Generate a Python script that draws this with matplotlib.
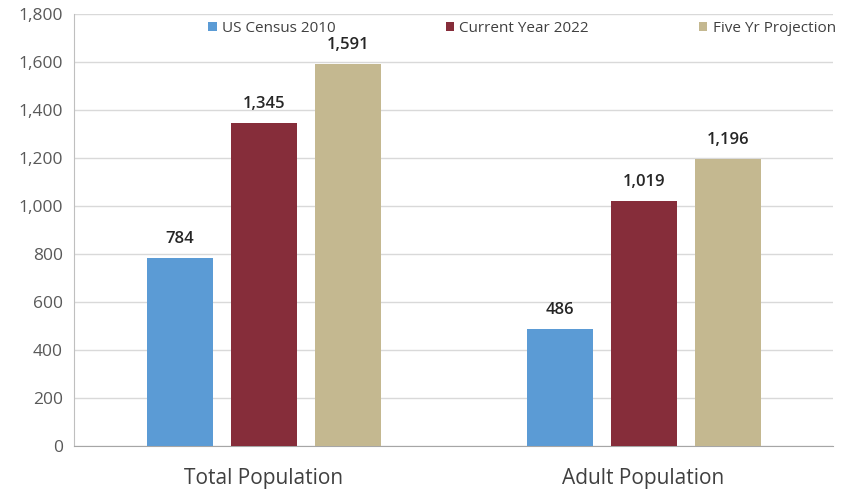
import matplotlib
matplotlib.use("Agg")
import matplotlib.pyplot as plt
import numpy as np
from matplotlib.ticker import FuncFormatter, MultipleLocator

categories = ["Total Population", "Adult Population"]
series_names = ["US Census 2010", "Current Year 2022", "Five Yr Projection"]
census_2010 = [784, 486]
current_2022 = [1345, 1019]
five_yr = [1591, 1196]
colors = ["#5B9BD5", "#862D3A", "#C4B890"]

plt.rcParams['font.family'] = ['Open Sans', 'DejaVu Sans']

fig = plt.figure(figsize=(8.42, 4.92), dpi=100)
ax = fig.add_axes([0.0879, 0.0935, 0.902, 0.878])

x = np.arange(len(categories))
width = 0.174
offset = 0.221
series = [census_2010, current_2022, five_yr]
for i, (vals, name, c) in enumerate(zip(series, series_names, colors)):
    pos = x + (i - 1) * offset
    bars = ax.bar(pos, vals, width, color=c, label=name, zorder=3)
    for b, v in zip(bars, vals):
        ax.annotate(f"{v:,}", (b.get_x() + b.get_width() / 2, v),
                    xytext=(0, 8), textcoords="offset points",
                    ha="center", va="bottom", fontsize=12,
                    fontweight="semibold", color="#262626")

ax.set_xlim(-0.5, 1.5)
ax.set_ylim(0, 1800)
ax.yaxis.set_major_locator(MultipleLocator(200))
ax.yaxis.set_major_formatter(FuncFormatter(lambda v, p: f"{int(v):,}"))
ax.set_xticks(x)
ax.set_xticklabels(categories, fontsize=15, color="#404040")
ax.tick_params(axis="x", length=0, pad=16)
ax.tick_params(axis="y", length=0, pad=8, labelsize=12.5, labelcolor="#595959")
ax.grid(axis="y", color="#D9D9D9", linewidth=1, zorder=0)
for s in ["top", "right"]:
    ax.spines[s].set_visible(False)
ax.spines["left"].set_color("#BFBFBF")
ax.spines["bottom"].set_color("#A6A6A6")

leg = ax.legend(loc="upper center", bbox_to_anchor=(0.59, 1.005), ncol=3,
                frameon=False, fontsize=11, handlelength=0.55, handleheight=0.55,
                handletextpad=0.35, columnspacing=7.2, labelcolor="#404040",
                borderaxespad=0.2)

fig.savefig("out.png", dpi=100)
